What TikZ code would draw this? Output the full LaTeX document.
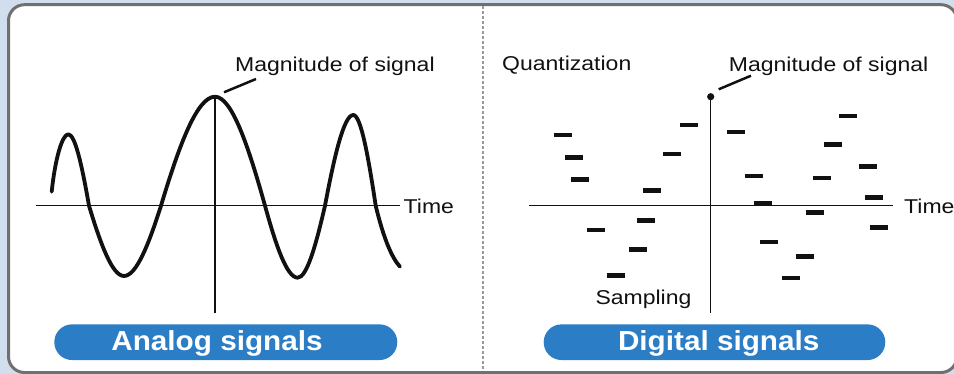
\documentclass[tikz,border=0pt]{standalone}
\usepackage{fontspec}
\newfontfamily\lblfont{Liberation Sans}[FakeStretch=1.15]
\newfontfamily\pillfont{Liberation Sans}[FakeStretch=1.08]
\definecolor{bgblue}{HTML}{D0DEEE}
\definecolor{framegray}{HTML}{707070}
\definecolor{sepgray}{HTML}{9A9A9A}
\definecolor{pillblue}{HTML}{2B7DC6}
\definecolor{ink}{HTML}{111111}
\tikzset{
  lbl/.style={inner sep=0pt, font=\lblfont\fontsize{20}{24}\selectfont, text=ink, anchor=base west},
  pilltext/.style={inner sep=0pt, font=\pillfont\bfseries\fontsize{27.5}{32}\selectfont, text=white, anchor=base},
  pillbox/.style={fill=pillblue, draw=none, rounded corners=17.8pt},
  axis/.style={draw=ink, line width=1.5pt},
  wave/.style={draw=ink, line width=3.8pt, line cap=round, line join=round},
  leader/.style={draw=ink, line width=2.5pt},
  qdash/.style={draw=ink, line width=4.5pt},
}
\begin{document}
\begin{tikzpicture}[x=1pt, y=-1pt]
\useasboundingbox (0,0) rectangle (954,374);
\clip (0,0) rectangle (954,374);
% background and frame
\fill[bgblue] (0,0) rectangle (954,374);
\draw[framegray, line width=3pt, fill=white, rounded corners=16pt] (8.5,4.7) rectangle (957,372.5);
\draw[sepgray, line width=2pt, dash pattern=on 3pt off 2pt] (482.7,6.5) -- (482.7,371);

% ---------------- Analog panel ----------------
\coordinate (aL) at (36,205.7);
\coordinate (aR) at (400,205.7);
\coordinate (aTop) at (215,96.7);
\coordinate (aBot) at (215,313.3);
\draw[axis] (aL) -- (aR);
\draw[axis] (aTop) -- (aBot);
\draw[wave] (51.7,191.7) .. controls (55,160) and (62,134.3) .. (68.3,134.3)
  .. controls (75.2,134.3) and (82.1,166.4) .. (89,205.7)
  .. controls (100.7,244.4) and (112.3,276) .. (124,276)
  .. controls (136.3,276) and (148.7,244.4) .. (161,205.7)
  .. controls (179,145.75) and (197,96.7) .. (215,96.7)
  .. controls (231.7,96.7) and (248.3,145.75) .. (265,205.7)
  .. controls (275.9,245.3) and (286.8,277.7) .. (297.7,277.7)
  .. controls (306.8,277.7) and (315.9,245.3) .. (325,205.7)
  .. controls (334.4,155.8) and (343.9,115) .. (353.3,115)
  .. controls (360.8,115) and (368.2,155.8) .. (375.7,205.7)
  .. controls (383.8,239.3) and (392,258) .. (400,266.7);
\node[lbl] (aMag) at (235,71.5) {Magnitude of signal};
\node[lbl] (aTime) at (403.5,214) {Time};
\coordinate (aLeadA) at (224,92.3);
\coordinate (aLeadB) at (256,79);
\draw[leader] (aLeadA) -- (aLeadB);
\node[pillbox, minimum width=343pt, minimum height=35.7pt, inner sep=0pt] (aPill) at (225.8,342.2) {};
\node[pilltext] (aPillText) at (217,350.5) {Analog signals};

% ---------------- Digital panel ----------------
\coordinate (dL) at (529.3,205.7);
\coordinate (dR) at (893,205.7);
\coordinate (dTop) at (710.7,96.7);
\coordinate (dBot) at (710.7,313);
\draw[axis] (dL) -- (dR);
\draw[axis] (dTop) -- (dBot);
\fill[ink] (dTop) circle (3.6pt);
\node[lbl] (dMag) at (728.7,71.5) {Magnitude of signal};
\node[lbl] (dQuant) at (502,71) {Quantization};
\node[lbl] (dSamp) at (595.3,305) {Sampling};
\node[lbl] (dTime) at (904,214) {Time};
\coordinate (dLeadA) at (718.7,89.3);
\coordinate (dLeadB) at (751,75.7);
\draw[leader] (dLeadA) -- (dLeadB);
\foreach \x/\y in {563/135, 574.3/157.3, 580.3/179.3, 596.3/230, 616/275.3,
  638.3/249.7, 645.7/220.3, 652.3/190.7, 672.3/154, 688.7/125,
  735.7/132, 754/176, 763/203.3, 769/242, 791.3/278, 805/256.7,
  815/212.7, 821.7/178, 833.3/144.7, 848.3/116, 867.7/166.7,
  874/197.7, 878.7/227.7}
  \draw[qdash] (\x-9.1,\y) -- (\x+9.1,\y);
\node[pillbox, minimum width=341.6pt, minimum height=35.7pt, inner sep=0pt] (dPill) at (714.5,342.2) {};
\node[pilltext] (dPillText) at (718.7,350.5) {Digital signals};
\end{tikzpicture}
\end{document}
